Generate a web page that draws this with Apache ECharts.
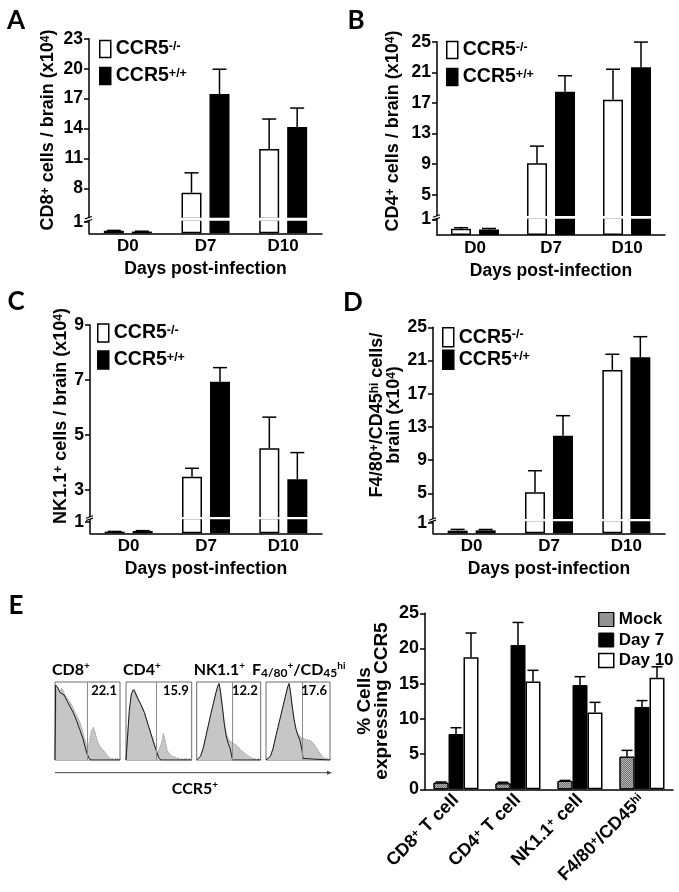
<!DOCTYPE html>
<html><head><meta charset="utf-8">
<script src="https://cdn.jsdelivr.net/npm/echarts@6/dist/echarts.min.js"></script>
<style>html,body{margin:0;padding:0;background:#fff}#c{width:679px;height:892px}</style>
</head><body><div id="c"></div>
<script>
// ---------- DATA ----------
const days = ['D0', 'D7', 'D10'];
const groupNames = ['CCR5-/-', 'CCR5+/+'];

// A: CD8+ cells / brain (x10^4)
const cd8KO = [0.22, 7.55, 11.95];
const cd8KOErr = [0.03, 2.0, 3.0];
const cd8WT = [0.15, 17.45, 14.15];
const cd8WTErr = [0.03, 2.5, 1.9];
const cd8Ticks = [1, 8, 11, 14, 17, 20, 23];

// B: CD4+ cells / brain (x10^4)
const cd4KO = [0.4, 9.1, 17.4];
const cd4KOErr = [0.07, 2.25, 4.0];
const cd4WT = [0.35, 18.45, 21.65];
const cd4WTErr = [0.07, 2.1, 3.3];
const cd4Ticks = [1, 5, 9, 13, 17, 21, 25];

// C: NK1.1+ cells / brain (x10^4)
const nkKO = [0.14, 3.48, 4.52];
const nkKOErr = [0.02, 0.31, 1.13];
const nkWT = [0.2, 6.94, 3.39];
const nkWTErr = [0.03, 0.51, 0.97];
const nkTicks = [1, 3, 5, 7, 9];

// D: F4/80+/CD45hi cells / brain (x10^4)
const macKO = [0.25, 5.12, 19.86];
const macKOErr = [0.12, 2.6, 1.89];
const macWT = [0.28, 11.94, 21.39];
const macWTErr = [0.08, 2.41, 2.48];
const macTicks = [1, 5, 9, 13, 17, 21, 25];

// E (right): % cells expressing CCR5
const cellTypes = ['CD8+ T cell', 'CD4+ T cell', 'NK1.1+ cell', 'F4/80+/CD45hi'];
const stageNames = ['Mock', 'Day 7', 'Day 10'];
const mockPct = [0.94, 0.85, 1.18, 4.63];
const mockErr = [0.1, 0.15, 0.08, 0.9];
const day7Pct = [7.85, 20.5, 14.8, 11.7];
const day7Err = [0.9, 3.2, 1.2, 0.9];
const day10Pct = [18.75, 15.3, 10.9, 15.85];
const day10Err = [3.45, 1.6, 1.45, 1.55];
const pctTicks = [0, 5, 10, 15, 20, 25];

// E (left): CCR5 flow histograms, [x %, height %]
const histTitles = ['CD8+', 'CD4+', 'NK1.1+', 'F4/80+/CD45hi'];
const histPct = ['22.1', '15.9', '12.2', '17.6'];
const histGate = [49, 46, 56, 57];
const cd8Stain = [[0,0],[1,55],[2,90],[4,96],[6,92],[8,88],[10,94],[13,90],[16,84],[19,82],[23,76],[27,70],[31,62],[35,56],[39,48],[43,36],[46,26],[49,17],[51,16],[53,24],[56,38],[59,43],[62,36],[65,25],[69,18],[73,14],[77,10],[81,5],[85,2],[90,0.5],[95,0],[100,0]];
const cd8Iso = [[0,0],[1,98],[3,100],[5,93],[8,88],[11,90],[14,85],[18,78],[23,70],[28,62],[33,52],[38,40],[43,28],[46,18],[49,9],[52,3],[55,0],[100,0]];
const cd4Stain = [[0,0],[3,2],[5,60],[8,84],[11,90],[13,93],[16,86],[20,78],[24,70],[29,60],[33,48],[37,37],[41,28],[45,17],[48,9],[51,8],[54,22],[57,35],[60,24],[63,12],[67,7],[71,5],[76,3],[81,1.5],[87,0],[100,0]];
const cd4Iso = [[0,0],[3,2],[5,65],[8,86],[11,92],[14,88],[18,80],[23,72],[28,62],[33,48],[38,34],[43,20],[47,10],[50,3],[53,0],[100,0]];
const nkStain = [[0,0],[3,0],[6,4],[10,14],[14,28],[18,42],[22,58],[26,72],[30,86],[33,96],[35,99],[37,92],[40,72],[43,50],[46,36],[49,28],[53,24],[57,22],[61,20],[65,17],[69,13],[73,10],[78,7],[83,4],[88,1.5],[92,0],[100,0]];
const nkIso = [[0,0],[3,0],[6,5],[10,15],[14,30],[18,45],[22,60],[26,74],[30,88],[33,97],[35,100],[37,90],[40,70],[43,48],[46,32],[49,22],[52,16],[54,8],[56,0],[100,0]];
const macStain = [[0,0],[3,0],[7,5],[11,14],[15,28],[19,42],[23,56],[27,70],[31,84],[34,95],[36,99],[38,92],[41,70],[44,52],[47,40],[50,34],[54,30],[58,28],[62,27],[66,26],[70,25],[74,22],[78,17],[82,12],[86,7],[90,3],[95,0.5],[100,0]];
const macIso = [[0,0],[3,0],[7,5],[11,15],[15,30],[19,44],[23,58],[27,72],[31,86],[34,96],[36,100],[38,90],[41,70],[44,52],[47,40],[50,32],[53,26],[56,14],[58,2],[59,0],[100,0]];

// ---------- BUILD ----------
const F = "'Liberation Sans', Arial, sans-serif";
const L = "Lato, 'Open Sans', sans-serif";
const grids = [], xAxes = [], yAxes = [], series = [], graphics = [], legends = [];

function supRich(size, supSize, lh, fam) {
  return {
    m: {fontFamily: fam, fontWeight: 'bold', fontSize: size, color: '#000', lineHeight: lh},
    s: {fontFamily: fam, fontWeight: 'bold', fontSize: supSize, color: '#000', lineHeight: Math.round(supSize * 0.9), verticalAlign: 'top'}
  };
}

function errorBars(xi, yi, vals, errs, offset, half) {
  return {
    type: 'custom', xAxisIndex: xi, yAxisIndex: yi, z: 5, silent: true,
    encode: {x: 0, y: 1},
    data: vals.map((v, i) => [i, v, errs[i]]),
    renderItem(params, api) {
      const cs = params.coordSys;
      const i = api.value(0), v = api.value(1), e = api.value(2);
      const p0 = api.coord([i, v]);
      const p1 = api.coord([i, v + e]);
      if (p0[1] < cs.y - 0.6 || p0[1] > cs.y + cs.height + 0.6) return null;
      const x = p0[0] + offset;
      const st = {stroke: '#000', lineWidth: 1.5};
      return {type: 'group', children: [
        {type: 'line', shape: {x1: x, y1: p0[1], x2: x, y2: p1[1]}, style: st},
        {type: 'line', shape: {x1: x - half, y1: p1[1], x2: x + half, y2: p1[1]}, style: st}
      ]};
    }
  };
}

function lin(v1, y1, v2, y2) { const k = (v2 - v1) / (y1 - y2); return y => v1 + (y1 - y) * k; }

function barPanel(p) {
  const up = lin(p.upV1, p.upY1, p.upV2, p.upY2);
  const low = lin(0, p.base, 1, p.oneY);
  const segs = [
    {top: p.upY2, bottom: p.gapTop + 0.8, min: up(p.gapTop + 0.8), max: p.upV2, lower: false},
    {top: p.gapBot - 0.8, bottom: p.base, min: 0, max: low(p.gapBot - 0.8), lower: true}
  ];
  segs.forEach(s => {
    grids.push({left: p.left, top: s.top, width: p.width, height: s.bottom - s.top});
    const gi = grids.length - 1;
    xAxes.push({
      gridIndex: gi, type: 'category', data: days, show: s.lower,
      axisLine: {lineStyle: {color: '#000', width: 1.5}},
      axisTick: {alignWithLabel: true, length: 4, lineStyle: {color: '#000', width: 1.5}},
      axisLabel: {color: '#000', fontFamily: F, fontWeight: 'bold', fontSize: 17, margin: 5},
      name: 'Days post-infection', nameLocation: 'middle', nameGap: 27,
      nameTextStyle: {color: '#000', fontFamily: F, fontWeight: 'bold', fontSize: 17.5}
    });
    const xi = xAxes.length - 1;
    const tv = p.ticks.filter(t => t >= s.min - 1e-6 && t <= s.max + 1e-6);
    yAxes.push({
      gridIndex: gi, type: 'value', min: s.min, max: s.max,
      axisLine: {show: true, lineStyle: {color: '#000', width: 1.5}},
      axisTick: {show: true, length: 5, customValues: tv, lineStyle: {color: '#000', width: 1.5}},
      axisLabel: {customValues: tv, color: '#000', fontFamily: F, fontWeight: 'bold', fontSize: 17.5, margin: 6},
      splitLine: {show: false}
    });
    const yi = yAxes.length - 1;
    series.push({type: 'bar', name: groupNames[0], xAxisIndex: xi, yAxisIndex: yi, data: p.ko,
      barWidth: 20, barGap: '40%', silent: true,
      itemStyle: {color: '#fff', borderColor: '#000', borderWidth: 1.5}});
    series.push({type: 'bar', name: groupNames[1], xAxisIndex: xi, yAxisIndex: yi, data: p.wt,
      barWidth: 20, barGap: '40%', silent: true,
      itemStyle: {color: '#000', borderColor: '#000', borderWidth: 1.5}});
    series.push(errorBars(xi, yi, p.ko, p.koErr, -14, 7));
    series.push(errorBars(xi, yi, p.wt, p.wtErr, 14, 7));
  });
  // break band + axis break mark
  graphics.push({type: 'rect', z: 50, silent: true,
    shape: {x: p.left - 4, y: p.gapTop, width: p.width + 6, height: p.gapBot - p.gapTop}, style: {fill: '#fff'}});
  [p.gapTop, p.gapBot].forEach(y => graphics.push({type: 'line', z: 51, silent: true,
    shape: {x1: p.left - 4, y1: y + 1.2, x2: p.left + 3, y2: y - 1.2}, style: {stroke: '#000', lineWidth: 1.2}}));
  // legend
  legends.push({
    data: [
      {name: groupNames[0], itemStyle: {color: '#fff', borderColor: '#000', borderWidth: 1.5}},
      {name: groupNames[1], itemStyle: {color: '#000', borderColor: '#000', borderWidth: 1.5}}
    ],
    orient: 'vertical', left: p.legLeft, top: p.legTop, padding: 0,
    itemWidth: 11, itemHeight: p.legH, itemGap: p.legGap, icon: 'rect', selectedMode: false,
    formatter: n => n === groupNames[0] ? '{m|CCR5}{s|-/-}' : '{m|CCR5}{s|+/+}',
    textStyle: {rich: supRich(19.5, 12.5, p.legH, F)}
  });
  // panel letter & y-axis name
  graphics.push({type: 'text', x: p.letterX, y: p.letterY, z: 60, silent: true,
    style: {text: p.letter, font: 'bold 26px ' + L, fill: '#000', align: 'center', verticalAlign: 'middle', textAlign: 'center', textVerticalAlign: 'middle'}});
  graphics.push({type: 'text', x: p.nameX, y: p.nameY, rotation: Math.PI / 2, z: 60, silent: true,
    style: {text: p.yName, rich: supRich(18, 12, 17, F), fill: '#000', align: 'center', verticalAlign: 'middle', textAlign: 'center', textVerticalAlign: 'middle'}});
}

barPanel({letter: 'A', letterX: 16, letterY: 21, left: 89, width: 233,
  upV1: 8, upY1: 188.3, upV2: 23, upY2: 38.8, gapTop: 217.7, gapBot: 220.7, base: 233.3, oneY: 221.7,
  ko: cd8KO, koErr: cd8KOErr, wt: cd8WT, wtErr: cd8WTErr, ticks: cd8Ticks,
  legLeft: 99, legTop: 39, legH: 17, legGap: 7,
  nameX: 48, nameY: 130, yName: '{m|CD8}{s|+}{m| cells / brain (x10}{s|4}{m|)}'});
barPanel({letter: 'B', letterX: 356, letterY: 21, left: 437, width: 228,
  upV1: 5, upY1: 194.7, upV2: 25, upY2: 41.7, gapTop: 216, gapBot: 218.7, base: 235, oneY: 219.5,
  ko: cd4KO, koErr: cd4KOErr, wt: cd4WT, wtErr: cd4WTErr, ticks: cd4Ticks,
  legLeft: 446, legTop: 40, legH: 17, legGap: 7,
  nameX: 393, nameY: 131, yName: '{m|CD4}{s|+}{m| cells / brain (x10}{s|4}{m|)}'});
barPanel({letter: 'C', letterX: 16, letterY: 302, left: 90, width: 232,
  upV1: 3, upY1: 490, upV2: 9, upY2: 325, gapTop: 517, gapBot: 519.3, base: 533.3, oneY: 521.7,
  ko: nkKO, koErr: nkKOErr, wt: nkWT, wtErr: nkWTErr, ticks: nkTicks,
  legLeft: 97, legTop: 323, legH: 18, legGap: 7,
  nameX: 61, nameY: 416, yName: '{m|NK1.1}{s|+}{m| cells / brain (x10}{s|4}{m|)}'});
barPanel({letter: 'D', letterX: 353, letterY: 303, left: 433, width: 232,
  upV1: 5, upY1: 493.3, upV2: 25, upY2: 327.3, gapTop: 519, gapBot: 521.3, base: 533.3, oneY: 522.7,
  ko: macKO, koErr: macKOErr, wt: macWT, wtErr: macWTErr, ticks: macTicks,
  legLeft: 442, legTop: 327, legH: 19, legGap: 2,
  nameX: 386, nameY: 415, yName: '{m|F4/80}{s|+}{m|/CD45}{s|hi}{m| cells/}\n{m|brain (x10}{s|4}{m|)}'});

// ---- E right: grouped bars ----
(function () {
  grids.push({left: 425, top: 613.3, width: 248, height: 176});
  const gi = grids.length - 1;
  const cellRich = ['{m|CD8}{s|+}{m| T cell}', '{m|CD4}{s|+}{m| T cell}', '{m|NK1.1}{s|+}{m| cell}', '{m|F4/80}{s|+}{m|/CD45}{s|hi}'];
  xAxes.push({gridIndex: gi, type: 'category', data: cellTypes,
    axisLine: {lineStyle: {color: '#000', width: 1.5}},
    axisTick: {alignWithLabel: true, length: 4, lineStyle: {color: '#000', width: 1.5}},
    axisLabel: {interval: 0, rotate: 45, margin: 8, formatter: (v, i) => cellRich[i], rich: supRich(18, 11.5, 18, F)}});
  const xi = xAxes.length - 1;
  yAxes.push({gridIndex: gi, type: 'value', min: 0, max: 25, interval: 5,
    axisLine: {show: true, lineStyle: {color: '#000', width: 1.5}},
    axisTick: {show: true, length: 5, lineStyle: {color: '#000', width: 1.5}},
    axisLabel: {color: '#000', fontFamily: F, fontWeight: 'bold', fontSize: 18, margin: 6},
    splitLine: {show: false}});
  const yi = yAxes.length - 1;
  const mockStyle = {color: '#b4b4b4', borderColor: '#000', borderWidth: 1,
    decal: {symbol: 'rect', symbolSize: 1, dashArrayX: [[1, 1], [0, 1, 1, 0]], dashArrayY: [1, 0], color: 'rgba(60,60,60,0.55)'}};
  const styles = [mockStyle,
    {color: '#000', borderColor: '#000', borderWidth: 1},
    {color: '#fff', borderColor: '#000', borderWidth: 1.5}];
  const vals = [mockPct, day7Pct, day10Pct];
  const errs = [mockErr, day7Err, day10Err];
  stageNames.forEach((n, k) => {
    series.push({type: 'bar', name: n, xAxisIndex: xi, yAxisIndex: yi, data: vals[k],
      barWidth: 15, barGap: '0%', silent: true, itemStyle: styles[k]});
  });
  stageNames.forEach((n, k) => series.push(errorBars(xi, yi, vals[k], errs[k], (k - 1) * 15, 5.5)));
  legends.push({data: stageNames.map((n, k) => ({name: n, itemStyle: styles[k]})),
    orient: 'vertical', left: 598, top: 611, padding: 0, itemWidth: 15, itemHeight: 14, itemGap: 3.5,
    icon: 'rect', selectedMode: false,
    textStyle: {color: '#000', fontFamily: F, fontWeight: 'bold', fontSize: 17, lineHeight: 14}});
  graphics.push({type: 'text', x: 373.5, y: 701, rotation: Math.PI / 2, z: 60, silent: true,
    style: {text: '% Cells\nexpressing CCR5', font: 'bold 19px ' + F, lineHeight: 17, fill: '#000',
      align: 'center', verticalAlign: 'middle', textAlign: 'center', textVerticalAlign: 'middle'}});
  graphics.push({type: 'text', x: 16, y: 606, z: 60, silent: true,
    style: {text: 'E', font: 'bold 26px ' + L, fill: '#000', align: 'center', verticalAlign: 'middle', textAlign: 'center', textVerticalAlign: 'middle'}});
})();

// ---- E left: flow histograms ----
(function () {
  const boxes = [{left: 55, width: 65}, {left: 126, width: 65.7}, {left: 196.7, width: 64}, {left: 266, width: 64}];
  const top = 682, height = 78;
  const stains = [cd8Stain, cd4Stain, nkStain, macStain];
  const isos = [cd8Iso, cd4Iso, nkIso, macIso];
  const titleRich = [
    '{m|CD8}{s|+}', '{m|CD4}{s|+}', '{m|NK1.1}{s|+}', '{m|F}{c|4/80}{s|+}{m|/CD}{c|45}{s|hi}'
  ];
  const tr = supRich(16, 10, 18, L);
  tr.c = {fontFamily: L, fontWeight: 'bold', fontSize: 12, color: '#000', lineHeight: 14, verticalAlign: 'bottom'};
  boxes.forEach((b, k) => {
    grids.push({left: b.left, top: top, width: b.width, height: height, show: true, borderColor: '#6a6a6a', borderWidth: 1, backgroundColor: 'transparent'});
    const gi = grids.length - 1;
    xAxes.push({gridIndex: gi, type: 'value', min: 0, max: 100, interval: 4,
      axisLine: {show: false}, axisLabel: {show: false}, splitLine: {show: false},
      axisTick: {show: true, inside: true, length: 2, lineStyle: {color: '#999', width: 0.8}}});
    const xi = xAxes.length - 1;
    yAxes.push({gridIndex: gi, type: 'value', min: 0, max: 102, show: false, splitLine: {show: false}});
    const yi = yAxes.length - 1;
    series.push({type: 'line', xAxisIndex: xi, yAxisIndex: yi, data: stains[k], symbol: 'none', silent: true,
      lineStyle: {color: '#8a8a8a', width: 1, type: 'dotted'}, areaStyle: {color: '#c6c6c6', opacity: 1},
      markLine: {silent: true, symbol: 'none', label: {show: false}, animation: false,
        lineStyle: {color: '#8c8c8c', width: 1, type: 'solid'}, data: [{xAxis: histGate[k]}]}});
    series.push({type: 'line', xAxisIndex: xi, yAxisIndex: yi, data: isos[k], symbol: 'none', silent: true,
      lineStyle: {color: '#1a1a1a', width: 1}});
    graphics.push({type: 'text', x: b.left + b.width - 3, y: top + 2, z: 60, silent: true,
      style: {text: histPct[k], font: 'bold 13px ' + L, fill: '#000', align: 'right', verticalAlign: 'top', textAlign: 'right', textVerticalAlign: 'top'}});
    graphics.push({type: 'text', x: b.left - 3 + (k === 3 ? -11 : 0), y: 670, z: 60, silent: true,
      style: {text: titleRich[k], rich: tr, fill: '#000', align: 'left', verticalAlign: 'middle', textAlign: 'left', textVerticalAlign: 'middle'}});
  });
  graphics.push({type: 'line', z: 60, silent: true, shape: {x1: 55, y1: 772.7, x2: 329, y2: 772.7}, style: {stroke: '#444', lineWidth: 1}});
  graphics.push({type: 'polygon', z: 60, silent: true, shape: {points: [[332, 772.7], [327, 770.7], [327, 774.7]]}, style: {fill: '#444'}});
  graphics.push({type: 'text', x: 195, y: 789, z: 60, silent: true,
    style: {text: '{m|CCR5}{s|+}', rich: supRich(16, 10, 18, L), fill: '#000', align: 'center', verticalAlign: 'middle', textAlign: 'center', textVerticalAlign: 'middle'}});
})();

const chart = echarts.init(document.getElementById('c'));
chart.setOption({
  animation: false,
  backgroundColor: '#fff',
  textStyle: {fontFamily: F},
  grid: grids, xAxis: xAxes, yAxis: yAxes, series: series,
  legend: legends,
  graphic: {elements: graphics}
});
</script></body></html>
